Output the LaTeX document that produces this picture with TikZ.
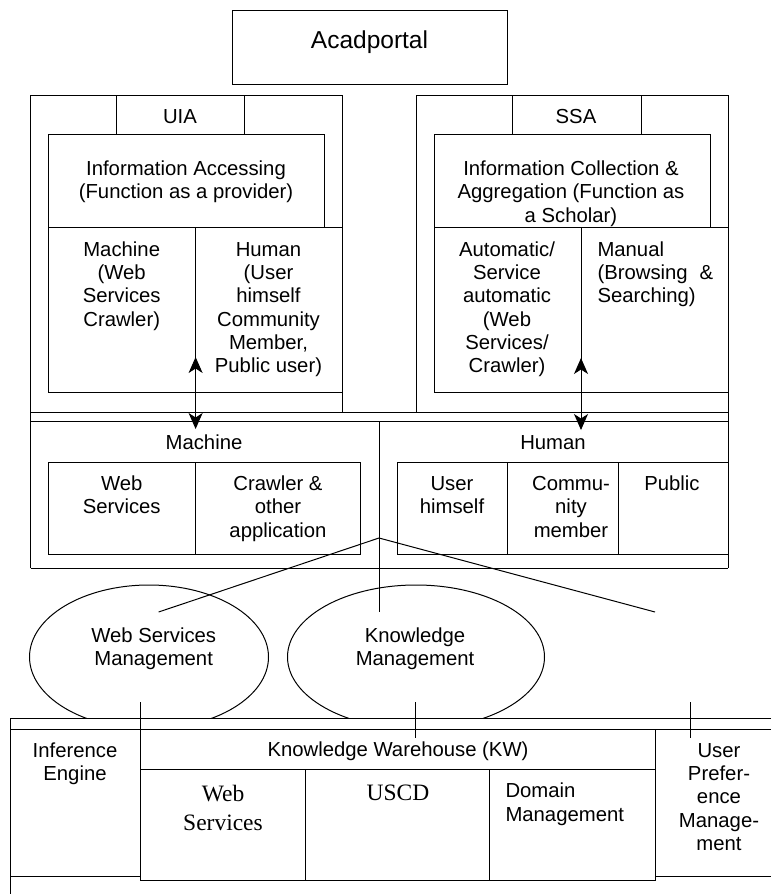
\documentclass[tikz,border=0pt]{standalone}
\usepackage{fontspec}
\setmainfont{Liberation Sans}
\newfontfamily\serifx{Liberation Serif}
\usetikzlibrary{shapes.geometric,arrows.meta}
\begin{document}
\begin{tikzpicture}[x=1pt,y=-1pt,line width=1pt,
 txt/.style={inner sep=0pt,align=center,anchor=north,font=\fontsize{20.3}{23.3}\selectfont},
 ltxt/.style={txt,align=left,anchor=north west},
 stxt/.style={inner sep=0pt,align=center,anchor=north,font=\serifx\fontsize{23.5}{29}\selectfont},
 lbl/.style={inner sep=0pt,anchor=base,font=\fontsize{20.3}{23.3}\selectfont},
 slbl/.style={inner sep=0pt,anchor=base,font=\serifx\fontsize{23.5}{29}\selectfont},
 tip/.tip={Stealth[length=16pt,width=14pt,inset=4.5pt]},
 arr/.style={tip-tip,line width=1pt},
 ell/.style={ellipse,draw,inner sep=0pt,minimum height=144pt}
]
\useasboundingbox (0,0) rectangle (771,894);

% Acadportal
\draw (232,10.7) rectangle (507,84);
\node[lbl,font=\fontsize{24.5}{28}\selectfont] (acad) at (369.5,48.3) {Acadportal};

% UIA
\draw (30.5,568.3) -- (30.5,95.7) -- (342,95.7) -- (342,412);
\draw (116,95.7) rectangle (244,134);
\draw (48,134) rectangle (324,227);
\draw (48,227) rectangle (342,392.7);
\draw (195.6,227) -- (195.6,392.7);
\node[lbl] (uia) at (180,123.5) {UIA};
\node[txt] (infoacc) at (186,158.7) {\strut Information Accessing\\(Function as a provider)};
\node[txt] (mach1) at (121.7,239.4) {\strut Machine\\(Web\\Services\\Crawler)};
\node[txt] (hum1) at (268.5,239.4) {\strut Human\\(User\\himself\\Community\\Member,\\Public user)};

% SSA
\draw (416,412) -- (416,95.7) -- (728,95.7) -- (728,568.3);
\draw (512,95.7) rectangle (641,134);
\draw (434,134) rectangle (710,227);
\draw (434,227) rectangle (728,392.7);
\draw (581,227) -- (581,392.7);
\node[lbl] (ssa) at (576,123.5) {SSA};
\node[txt] (infocol) at (571,158.7) {\strut Information Collection \&\\Aggregation (Function as\\a Scholar)};
\node[txt] (auto) at (507,239.4) {\strut Automatic/\\Service\\automatic\\(Web\\Services/\\Crawler)};
\node[ltxt] (manual) at (597,239.4) {\strut Manual\\(Browsing\hspace{12pt}\&\\Searching)};

% band and lower top block
\draw (30.5,412) -- (728,412);
\draw (30.5,421.7) -- (728,421.7);
\draw (30.5,568.3) -- (728,568.3);
\draw (379,421.7) -- (379,612);
\node[lbl] (machine) at (204,449) {Machine};
\node[lbl] (human) at (553,449) {Human};

\draw (48,462) rectangle (360.6,554);
\draw (195.6,462) -- (195.6,554);
\node[txt] (ws1) at (121.7,473.7) {\strut Web\\Services};
\node[txt] (crawl) at (278,473.7) {\strut Crawler \&\\other\\application};

\draw (397,462) rectangle (728,554);
\draw (507,462) -- (507,554);
\draw (618,462) -- (618,554);
\node[txt] (userh) at (452,473.7) {\strut User\\himself};
\node[txt] (commu) at (571,473.7) {\strut Commu-\\nity\\member};
\node[txt] (public) at (672,473.7) {\strut Public};

% arrows
\coordinate (ua) at (195.6,357);
\coordinate (ub) at (195.6,429);
\draw[arr] (ua) -- (ub);
\coordinate (sa) at (581,358);
\coordinate (sb) at (581,430);
\draw[arr] (sa) -- (sb);

% ellipses
\begin{scope}
\clip (0,0) rectangle (771,718);
\node[ell,minimum width=239pt] (wsm) at (149,657) {};
\node[ell,minimum width=257pt] (km) at (416,657) {};
\end{scope}
\node[txt] (wsmt) at (153.7,625.7) {\strut Web Services\\Management};
\node[txt] (kmt) at (415,625.7) {\strut Knowledge\\Management};

% fan lines
\coordinate (hub) at (379,538);
\coordinate (e1) at (158.6,612);
\coordinate (e3) at (655,612);
\draw (hub) -- (e1);
\draw (hub) -- (e3);

% bottom block
\draw (771,718) -- (10.8,718) -- (10.8,894);
\draw (10.8,729) -- (771,729);
\draw (10.8,876.5) -- (140.4,876.5);
\draw (140.4,702) -- (140.4,880.5) -- (655,880.5) -- (655,729);
\draw (140.4,769) -- (655,769);
\draw (305,769) -- (305,880.5);
\draw (489,769) -- (489,880.5);
\draw (655,876.5) -- (771,876.5);
\draw (415,702) -- (415,738);
\draw (690.6,702) -- (690.6,738);

\node[txt] (infer) at (75,740.4) {\strut Inference\\Engine};
\node[lbl] (kw) at (398,756.7) {Knowledge Warehouse (KW)};
\node[stxt] (ws2) at (223,780.2) {\strut Web\\Services};
\node[slbl] (uscd) at (398,800) {USCD};
\node[ltxt] (dom) at (505,781) {\strut Domain\\Management};
\node[txt] (upm) at (719,740.4) {\strut User\\Prefer-\\ence\\Manage-\\ment};
\end{tikzpicture}
\end{document}
